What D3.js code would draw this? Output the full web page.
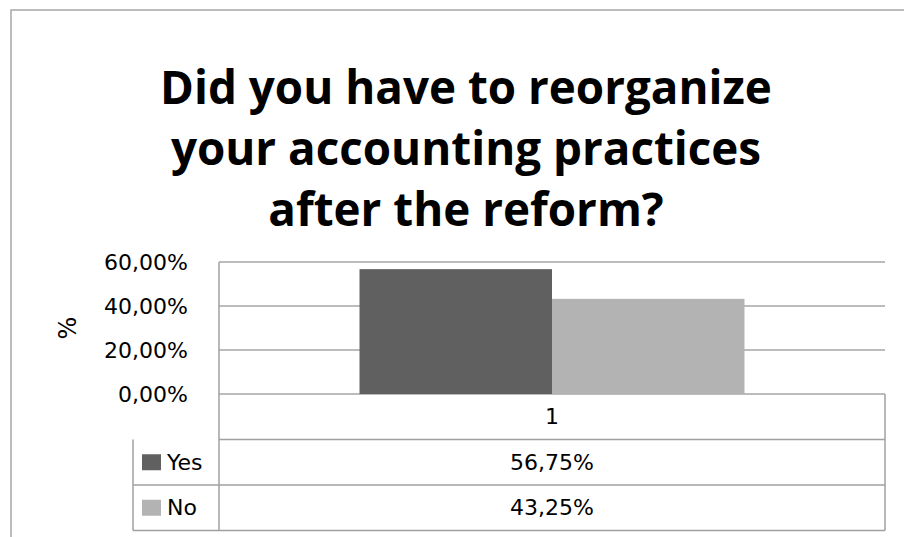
<!DOCTYPE html>
<html>
<head>
<meta charset="utf-8">
<script src="https://cdn.jsdelivr.net/npm/d3@7"></script>
<style>
body{margin:0;background:#fff;}
svg{display:block;}
text{fill:#000;}
</style>
</head>
<body>
<script>
var titleLines=["Did you have to reorganize","your accounting practices","after the reform?"];
var categories=["1"];
var seriesNames=["Yes","No"];
var seriesValues=[0.5675,0.4325];
var seriesColors=["#606060","#b3b3b3"];
var yTicks=[0,0.2,0.4,0.6];

var width=904,height=537;
var plotL=219,plotR=885,plotT=262,plotB=394;
var rowH=45.5;
var labelFont="'DejaVu Sans',sans-serif";

var fmt=function(v){return (v*100).toFixed(2).replace(".",",")+"%";};

var svg=d3.select("body").append("svg")
	.attr("width",width)
	.attr("height",height);

// outer frame
svg.append("rect")
	.attr("x",11).attr("y",10)
	.attr("width",width+20).attr("height",height+20)
	.attr("fill","none").attr("stroke","#a6a6a6").attr("stroke-width",1.5);

// title
var title=svg.append("g");
titleLines.forEach(function(t,i){
	title.append("text")
		.attr("x",466).attr("y",104+i*61)
		.attr("text-anchor","middle")
		.attr("font-weight","bold")
		.attr("font-size",44)
		.style("font-family","'Open Sans',sans-serif")
		.text(t);
});
var w0=title.select("text").node().getComputedTextLength();
title.selectAll("text").attr("font-size",44*612/w0);

var y=d3.scaleLinear().domain([0,0.6]).range([plotB,plotT]);
var x=d3.scaleBand().domain(categories).range([plotL,plotR]);
var xs=d3.scaleBand().domain(seriesNames).range([0,x.bandwidth()]).paddingOuter(0.73);

// gridlines
svg.append("g").selectAll("line").data(yTicks).enter().append("line")
	.attr("x1",plotL).attr("x2",plotR)
	.attr("y1",function(d){return y(d);}).attr("y2",function(d){return y(d);})
	.attr("stroke","#a6a6a6").attr("stroke-width",1.5);

// bars
svg.append("g").selectAll("rect").data(seriesValues).enter().append("rect")
	.attr("x",function(d,i){return x(categories[0])+xs(seriesNames[i]);})
	.attr("width",xs.bandwidth())
	.attr("y",function(d){return y(d);})
	.attr("height",function(d){return y(0)-y(d);})
	.attr("fill",function(d,i){return seriesColors[i];});

// y axis
var yAxis=d3.axisLeft(y).tickValues(yTicks).tickSize(0).tickPadding(31).tickFormat(fmt);
var ga=svg.append("g").attr("transform","translate("+plotL+",0)").call(yAxis);
ga.select(".domain").remove();
ga.selectAll("text").attr("font-size",22).attr("fill","#000")
	.style("font-family",labelFont);

svg.append("text")
	.attr("transform","translate(76,328) rotate(-90)")
	.attr("text-anchor","middle")
	.attr("font-size",24)
	.style("font-family",labelFont)
	.text("%");

// data table
var tbl=svg.append("g");
var line=function(x1,y1,x2,y2){
	tbl.append("line").attr("x1",x1).attr("y1",y1).attr("x2",x2).attr("y2",y2)
		.attr("stroke","#a0a0a0").attr("stroke-width",1.5);
};
var tTop=plotB,tBot=plotB+rowH*3;
line(plotL,plotT,plotL,tBot);
line(plotR,tTop,plotR,tBot);
line(133,tTop+rowH,133,tBot);
for(var r=1;r<=3;r++){ line(r==1?plotL:133,tTop+rowH*r,plotR,tTop+rowH*r); }

tbl.append("text")
	.attr("x",x(categories[0])+x.bandwidth()/2)
	.attr("y",tTop+rowH/2).attr("dy","0.35em")
	.attr("text-anchor","middle").attr("font-size",22)
	.style("font-family",labelFont)
	.text(categories[0]);

seriesNames.forEach(function(s,i){
	var cy=tTop+rowH*(i+1)+rowH/2;
	tbl.append("rect").attr("x",142).attr("y",cy-8).attr("width",19).attr("height",16)
		.attr("fill",seriesColors[i]);
	tbl.append("text").attr("x",167).attr("y",cy).attr("dy","0.35em")
		.attr("font-size",22).style("font-family",labelFont).text(s);
	tbl.append("text")
		.attr("x",x(categories[0])+x.bandwidth()/2)
		.attr("y",cy).attr("dy","0.35em")
		.attr("text-anchor","middle").attr("font-size",22)
		.style("font-family",labelFont)
		.text(fmt(seriesValues[i]));
});
</script>
</body>
</html>
